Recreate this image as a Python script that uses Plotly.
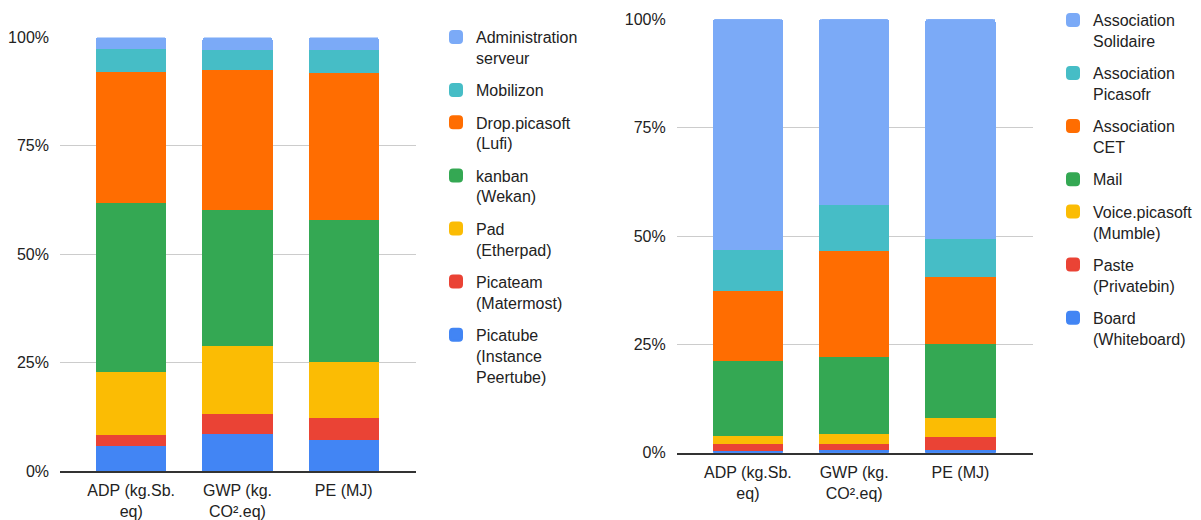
import plotly.graph_objects as go

categories = ["ADP (kg.Sb.<br>eq)", "GWP (kg.<br>CO².eq)", "PE (MJ)"]
y_ticks = [0, 25, 50, 75, 100]
y_tick_labels = ["0%", "25%", "50%", "75%", "100%"]

# Left chart (bottom to top of stack)
left_names = ["Picatube<br>(Instance<br>Peertube)", "Picateam<br>(Matermost)", "Pad<br>(Etherpad)",
              "kanban<br>(Wekan)", "Drop.picasoft<br>(Lufi)", "Mobilizon", "Administration<br>serveur"]
picatube = [6.0, 8.8, 7.4]
picateam = [2.6, 4.6, 5.1]
pad = [14.5, 15.7, 12.9]
kanban = [39.0, 31.3, 32.7]
drop = [30.2, 32.3, 33.9]
mobilizon = [5.3, 4.65, 5.35]
admin = [2.4, 2.65, 2.65]
left_values = [picatube, picateam, pad, kanban, drop, mobilizon, admin]

# Right chart (bottom to top of stack)
right_names = ["Board<br>(Whiteboard)", "Paste<br>(Privatebin)", "Voice.picasoft<br>(Mumble)",
               "Mail", "Association<br>CET", "Association<br>Picasofr", "Association<br>Solidaire"]
board = [0.7, 0.85, 0.85]
paste = [1.6, 1.45, 3.05]
voice = [1.85, 2.3, 4.4]
mail = [17.35, 17.8, 17.0]
cet = [16.1, 24.4, 15.5]
picasofr = [9.4, 10.6, 8.8]
solidaire = [53.0, 42.6, 50.4]
right_values = [board, paste, voice, mail, cet, picasofr, solidaire]

colors = ["#4285F4", "#EA4335", "#FBBC04", "#34A853", "#FF6D01", "#46BDC6", "#7BAAF7"]

W, H = 1201, 520
FONT = "Arial, 'Liberation Sans', sans-serif"
TXT = "#222222"

fig = go.Figure()
n_series = len(left_names)
for i, (n, v) in enumerate(zip(left_names, left_values)):
    fig.add_trace(go.Bar(x=categories, y=v, name=n,
                         marker=dict(color=colors[i], line=dict(width=2, color=colors[i])),
                         xaxis="x", yaxis="y", legend="legend", legendgroup="L%d" % i,
                         legendrank=n_series - i, hoverinfo="name+y"))
for i, (n, v) in enumerate(zip(right_names, right_values)):
    fig.add_trace(go.Bar(x=categories, y=v, name=n,
                         marker=dict(color=colors[i], line=dict(width=2, color=colors[i])),
                         xaxis="x2", yaxis="y2", legend="legend2", legendgroup="R%d" % i,
                         legendrank=n_series - i, hoverinfo="name+y"))

def px_x(p):
    return p / W

def px_y(p):
    return 1 - p / H

axis_common = dict(tickfont=dict(family=FONT, size=16, color=TXT))
xcommon = dict(range=[-0.67, 2.68], showgrid=False, showline=True, linecolor="#333333", linewidth=2,
               ticks="", ticklabelstandoff=4, fixedrange=True, layer="above traces", **axis_common)
ycommon = dict(range=[0, 100], tickvals=y_ticks, ticktext=y_tick_labels, showgrid=True,
               gridcolor="#CCCCCC", gridwidth=1, zeroline=False, showline=False, ticks="",
               ticklabelstandoff=10, fixedrange=True, **axis_common)

legend_common = dict(font=dict(family=FONT, size=16, color=TXT), traceorder="grouped",
                     tracegroupgap=8.5, valign="top", bgcolor="rgba(0,0,0,0)",
                     xanchor="left", yanchor="top")

fig.update_layout(
    width=W, height=H,
    margin=dict(l=0, r=0, t=0, b=0, autoexpand=False),
    paper_bgcolor="white", plot_bgcolor="white",
    barmode="stack", bargap=0.358,
    barcornerradius=3,
    font=dict(family=FONT, size=16, color=TXT),
    xaxis=dict(domain=[px_x(60), px_x(416)], anchor="y", **xcommon),
    yaxis=dict(domain=[px_y(471), px_y(37.5)], anchor="x", **ycommon),
    xaxis2=dict(domain=[px_x(676.7), px_x(1032.7)], anchor="y2", **xcommon),
    yaxis2=dict(domain=[px_y(452.7), px_y(19.3)], anchor="x2", **ycommon),
    legend=dict(x=px_x(436), y=px_y(20), **legend_common),
    legend2=dict(x=px_x(1053), y=px_y(3), **legend_common),
    showlegend=True,
)

fig.write_html("out.html", config={"displayModeBar": False},
               post_script="document.body.style.margin='0';document.body.style.overflow='hidden';")
